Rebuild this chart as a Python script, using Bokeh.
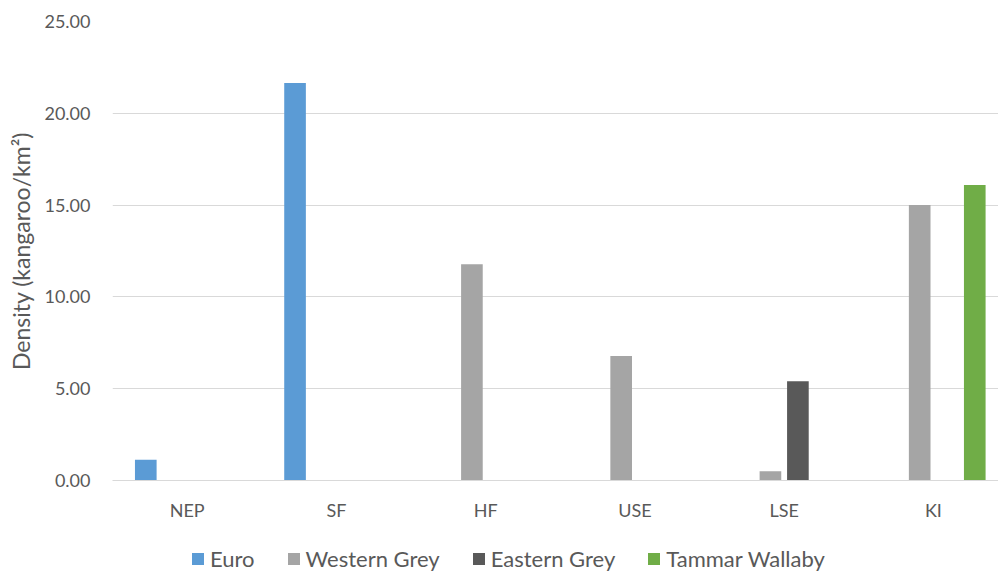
from bokeh.plotting import figure
from bokeh.models import (ColumnDataSource, Range1d, FixedTicker, Legend, LegendItem,
                          NumeralTickFormatter)
from bokeh.layouts import column
from bokeh.transform import dodge
from bokeh.embed import file_html
from bokeh.resources import INLINE

categories = ["NEP", "SF", "HF", "USE", "LSE", "KI"]
euro = [1.13, 21.65, 0, 0, 0, 0]
western_grey = [0, 0, 11.78, 6.78, 0.5, 15.0]
eastern_grey = [0, 0, 0, 0, 5.4, 0]
tammar_wallaby = [0, 0, 0, 0, 0, 16.1]
y_ticks = [0, 5, 10, 15, 20, 25]

series_names = ["Euro", "Western Grey", "Eastern Grey", "Tammar Wallaby"]
series_colors = ["#5B9BD5", "#A5A5A5", "#595959", "#70AD47"]
cols = ["euro", "wg", "eg", "tw"]

xpos = [i + 0.5 for i in range(len(categories))]
source = ColumnDataSource(dict(x=xpos, cat=categories, euro=euro, wg=western_grey,
                               eg=eastern_grey, tw=tammar_wallaby))

FONT = "Lato"
TXT = "#595959"
GRID = "#D9D9D9"

p = figure(width=998, height=540, output_backend="svg", toolbar_location=None,
           x_range=Range1d(0, 5.936), y_range=Range1d(0, 25),
           min_border_left=112, min_border_right=0, min_border_top=21, min_border_bottom=60)
p.outline_line_color = None

offsets = [-0.277, -0.092, 0.092, 0.277]
for col, color, off in zip(cols, series_colors, offsets):
    p.vbar(x=dodge("x", off, range=p.x_range), top=col, width=0.145, bottom=0,
           source=source, fill_color=color, line_color=None)

# axes
p.xaxis.ticker = FixedTicker(ticks=xpos)
p.xaxis.major_label_overrides = {x: c for x, c in zip(xpos, categories)}
p.xaxis.major_tick_line_color = None
p.xaxis.minor_tick_line_color = None
p.xaxis.axis_line_color = GRID
p.xaxis.axis_line_width = 1
p.xaxis.major_label_standoff = 12
p.xaxis.major_label_text_font = FONT
p.xaxis.major_label_text_font_size = "18px"
p.xaxis.major_label_text_color = TXT

p.yaxis.ticker = FixedTicker(ticks=y_ticks)
p.yaxis.formatter = NumeralTickFormatter(format="0.00")
p.yaxis.axis_line_color = None
p.yaxis.major_tick_line_color = None
p.yaxis.minor_tick_line_color = None
p.yaxis.major_label_standoff = 16
p.yaxis.major_label_text_font = FONT
p.yaxis.major_label_text_font_size = "18px"
p.yaxis.major_label_text_color = TXT
p.yaxis.axis_label = "Density (kangaroo/km²)"
p.yaxis.axis_label_text_font = FONT
p.yaxis.axis_label_text_font_size = "23px"
p.yaxis.axis_label_text_font_style = "normal"
p.yaxis.axis_label_text_color = TXT
p.yaxis.axis_label_standoff = 6

p.xgrid.grid_line_color = None
p.ygrid.grid_line_color = GRID
p.ygrid.grid_line_width = 1

# legend strip below the chart (frame aligned with the chart frame)
lg = figure(width=998, height=32, output_backend="svg", toolbar_location=None,
            x_range=Range1d(0, 1), y_range=Range1d(0, 1),
            min_border_left=0, min_border_right=0, min_border_top=0, min_border_bottom=0)
lg.axis.visible = False
lg.grid.visible = False
lg.outline_line_color = None
items = []
for name, color in zip(series_names, series_colors):
    r = lg.vbar(x=[-5], top=[0], width=0.1, fill_color=color, line_color=None)
    items.append(LegendItem(label=name, renderers=[r]))
legend = Legend(items=items, orientation="horizontal", location=(78, 0),
                glyph_width=15, glyph_height=15, label_standoff=5, spacing=31,
                padding=0, margin=0, border_line_color=None, background_fill_alpha=0,
                label_text_font=FONT, label_text_font_size="22px", label_text_color=TXT)
lg.add_layout(legend, "center")

layout = column(p, lg, spacing=0)
open("out.html", "w").write(file_html(layout, INLINE))
